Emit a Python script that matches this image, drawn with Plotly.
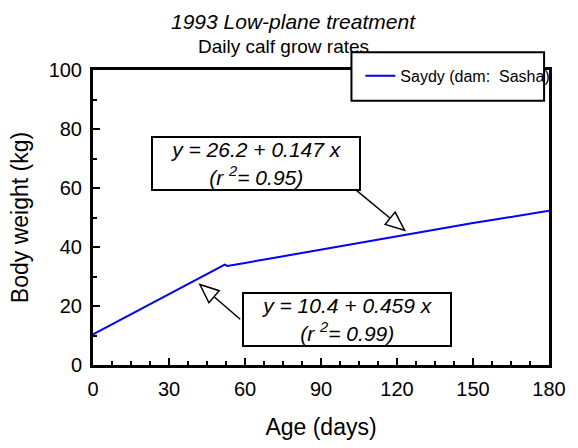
import plotly.graph_objects as go

# ---- data ----
age_days = [0, 7, 14, 21, 28, 35, 42, 49, 52, 53, 56, 60, 70, 80, 90, 100,
            110, 120, 130, 140, 150, 160, 170, 180]
body_weight = [10.4, 13.6, 16.8, 20.0, 23.2, 26.5, 29.7, 32.7, 34.0, 33.6,
               34.1, 34.6, 36.1, 37.6, 39.3, 40.7, 42.2, 43.8, 45.3, 46.7,
               48.1, 49.5, 50.9, 52.3]
series_name = "Saydy (dam:  Sasha)"

x_ticks = [0, 30, 60, 90, 120, 150, 180]
y_ticks = [0, 20, 40, 60, 80, 100]

title_text = "1993 Low-plane treatment"
subtitle_text = "Daily calf grow rates"
x_title = "Age (days)"
y_title = "Body weight (kg)"

fit_labels = ["y = 26.2 + 0.147 x<br>(r <sup>2</sup>= 0.95)",
              "y = 10.4 + 0.459 x<br>(r <sup>2</sup>= 0.99)"]
# box centres (data units), arrow tails and tips (data units)
fit_box_x = [64.4, 100.2]
fit_box_y = [68.4, 15.5]
arrow_tail = [(104.0, 59.2), (58.1, 15.5)]
arrow_tip = [(123.0, 45.7), (42.2, 27.3)]

# ---- layout geometry ----
W, H = 578, 448
ML, MR, MT, MB = 93, 21, 70, 80
XR = (0, 180)
YR = (0, 100)
PW = W - ML - MR
PH = H - MT - MB

def to_px(x, y):
    return (ML + (x - XR[0]) / (XR[1] - XR[0]) * PW,
            MT + (YR[1] - y) / (YR[1] - YR[0]) * PH)

def to_data(px, py):
    return (XR[0] + (px - ML) / PW * (XR[1] - XR[0]),
            YR[1] - (py - MT) / PH * (YR[1] - YR[0]))

FONT = "Arial, Liberation Sans, sans-serif"

fig = go.Figure()
fig.add_trace(go.Scatter(x=age_days, y=body_weight, mode="lines",
                         name=series_name,
                         line=dict(color="#0000FF", width=2)))

shapes = []
annotations = []

# arrows with hollow heads
head_len, head_half = 19, 8
for (tx, ty), (hx, hy) in zip(arrow_tail, arrow_tip):
    tpx, tpy = to_px(tx, ty)
    hpx, hpy = to_px(hx, hy)
    dx, dy = hpx - tpx, hpy - tpy
    n = (dx * dx + dy * dy) ** 0.5
    ux, uy = dx / n, dy / n
    bx, by = hpx - ux * head_len, hpy - uy * head_len
    c1 = to_data(bx - uy * head_half, by + ux * head_half)
    c2 = to_data(bx + uy * head_half, by - ux * head_half)
    bd = to_data(bx, by)
    shapes.append(dict(type="line", xref="x", yref="y", x0=tx, y0=ty,
                       x1=bd[0], y1=bd[1], line=dict(color="black", width=1.5),
                       layer="above"))
    path = "M {:.4f},{:.4f} L {:.4f},{:.4f} L {:.4f},{:.4f} Z".format(
        hx, hy, c1[0], c1[1], c2[0], c2[1])
    shapes.append(dict(type="path", xref="x", yref="y", path=path,
                       fillcolor="white", line=dict(color="black", width=1.5),
                       layer="above"))

# legend box
shapes.append(dict(type="rect", xref="paper", yref="paper",
                   x0=0.5668, x1=0.9892, y0=0.896, y1=1.0604,
                   fillcolor="white", line=dict(color="black", width=2),
                   layer="above"))

for txt, bx, by in zip(fit_labels, fit_box_x, fit_box_y):
    annotations.append(dict(x=bx, y=by, xref="x", yref="y", text=txt,
                            showarrow=False, width=206, height=51,
                            bgcolor="white", bordercolor="black",
                            borderwidth=2, borderpad=0,
                            font=dict(family=FONT, size=21, color="black",
                                      style="italic")))

annotations.append(dict(x=0.4407, y=1.1651, xref="paper", yref="paper",
                        text=title_text, showarrow=False,
                        xanchor="center", yanchor="middle",
                        font=dict(family=FONT, size=21, color="black",
                                  style="italic")))
annotations.append(dict(x=0.417, y=1.0805, xref="paper", yref="paper",
                        text=subtitle_text, showarrow=False,
                        xanchor="center", yanchor="middle",
                        font=dict(family=FONT, size=19, color="black")))

axis_common = dict(showline=True, linecolor="black", linewidth=3,
                   mirror=True, ticks="inside", tickcolor="black",
                   tickwidth=1.5, ticklen=7, showgrid=False, zeroline=False,
                   ticklabelstandoff=4,
                   tickfont=dict(family=FONT, size=20, color="black"))

fig.update_layout(
    width=W, height=H,
    margin=dict(l=ML, r=MR, t=MT, b=MB, pad=0),
    paper_bgcolor="white", plot_bgcolor="white",
    font=dict(family=FONT, color="black"),
    showlegend=True,
    legend=dict(x=0.5862, y=0.980, xanchor="left", yanchor="middle",
                bgcolor="rgba(0,0,0,0)", borderwidth=0,
                font=dict(family=FONT, size=16, color="black")),
    xaxis=dict(range=list(XR), tickvals=x_ticks,
               minor=dict(ticks="inside", dtick=7.5, ticklen=4,
                          tickcolor="black", tickwidth=1.5, showgrid=False),
               title=dict(text=x_title, standoff=20,
                          font=dict(family=FONT, size=23, color="black")),
               **axis_common),
    yaxis=dict(range=list(YR), tickvals=y_ticks,
               minor=dict(ticks="inside", dtick=10, ticklen=4,
                          tickcolor="black", tickwidth=1.5, showgrid=False),
               title=dict(text=y_title, standoff=14,
                          font=dict(family=FONT, size=23, color="black")),
               **axis_common),
    shapes=shapes,
    annotations=annotations,
)

fig.write_html("out.html")
